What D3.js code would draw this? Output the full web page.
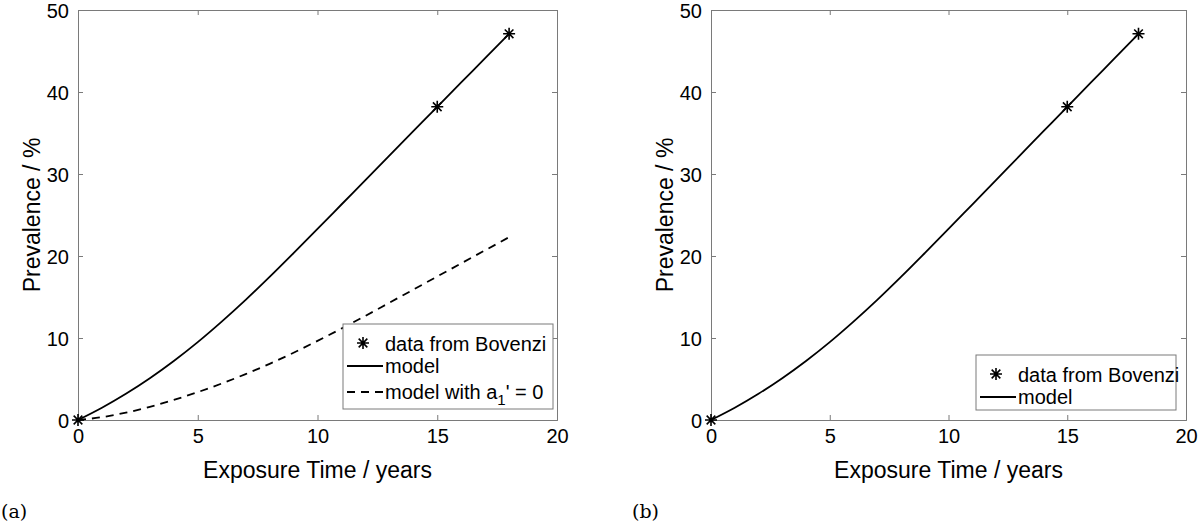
<!DOCTYPE html>
<html>
<head>
<meta charset="utf-8">
<script src="https://cdn.jsdelivr.net/npm/d3@7"></script>
<style>
  body { margin: 0; background: #fff; }
  text { font-family: "Liberation Sans", Arial, sans-serif; fill: #000; }
</style>
</head>
<body>
<script>
/**
 * Prevalence vs exposure time, two panels (a) and (b)
 */

// axis ticks
var xTicks = [0, 5, 10, 15, 20];
var yTicks = [0, 10, 20, 30, 40, 50];

// measured points (data from Bovenzi)
var dataTime = [0, 15, 18];
var dataPrev = [0, 38.2, 47.1];

// model curves
var modelTime = [0, 1, 2, 3, 4, 5, 6, 7, 8, 9, 10, 11, 12, 13, 14, 15, 16, 17, 18];
var modelPrev = [0, 1.5, 3.2, 5.1, 7.2, 9.5, 12.0, 14.65, 17.45, 20.35, 23.3, 26.28, 29.26, 32.24, 35.22, 38.2, 41.17, 44.13, 47.1];
var modelA1ZeroPrev = [0, 0.35, 0.9, 1.6, 2.45, 3.4, 4.45, 5.6, 6.85, 8.2, 9.65, 11.15, 12.7, 14.3, 15.9, 17.5, 19.1, 20.7, 22.3];

// svg container
var width = 1200, height = 521;
var svg = d3.select('body')
	.append('svg')
	.attr('width', width)
	.attr('height', height);

var axisColor = '#7a7a7a';

// draw one panel
function drawPanel(p) {
	var x = d3.scaleLinear().domain([0, 20]).range([p.left, p.right]);
	var y = d3.scaleLinear().domain([0, 50]).range([420, 10]);
	var g = svg.append('g');

	// inner ticks on all four sides
	g.append('g').attr('transform', 'translate(0,420)')
		.call(d3.axisBottom(x).tickValues(xTicks).tickSize(-5).tickPadding(9))
		.call(styleAxis);
	g.append('g').attr('transform', 'translate(0,10)')
		.call(d3.axisTop(x).tickValues(xTicks).tickSize(-5).tickFormat(''))
		.call(styleAxis);
	g.append('g').attr('transform', 'translate(' + p.left + ',0)')
		.call(d3.axisLeft(y).tickValues(yTicks).tickSize(-5).tickPadding(9))
		.call(styleAxis)
		.selectAll('.tick text').attr('dy', '0.36em');
	g.append('g').attr('transform', 'translate(' + p.right + ',0)')
		.call(d3.axisRight(y).tickValues(yTicks).tickSize(-5).tickFormat(''))
		.call(styleAxis);

	// axis labels
	g.append('text')
		.attr('x', (p.left + p.right) / 2)
		.attr('y', 478)
		.attr('text-anchor', 'middle')
		.style('font-size', '23px')
		.text('Exposure Time / years');
	g.append('text')
		.attr('transform', 'translate(' + (p.left - 38) + ',215) rotate(-90)')
		.attr('text-anchor', 'middle')
		.style('font-size', '23px')
		.text('Prevalence / %');

	var line = d3.line()
		.x(function(d, i) { return x(modelTime[i]); })
		.y(function(d) { return y(d); })
		.curve(d3.curveMonotoneX);

	if (p.dashed) {
		g.append('path')
			.attr('d', line(modelA1ZeroPrev))
			.attr('fill', 'none')
			.attr('stroke', '#000')
			.attr('stroke-width', 1.8)
			.attr('stroke-dasharray', '8,6');
	}
	g.append('path')
		.attr('d', line(modelPrev))
		.attr('fill', 'none')
		.attr('stroke', '#000')
		.attr('stroke-width', 1.8);

	dataTime.forEach(function(t, i) {
		drawStar(g, x(t), y(dataPrev[i]));
	});

	// legend
	var lg = g.append('g');
	lg.append('rect')
		.attr('x', p.legend.x).attr('y', p.legend.y)
		.attr('width', p.legend.w).attr('height', p.legend.h)
		.attr('fill', '#fff').attr('stroke', axisColor);
	var lx = p.legend.x, ly = p.legend.y;
	drawStar(lg, lx + 20, ly + 19);
	lg.append('text').attr('x', lx + 42).attr('y', ly + 27)
		.style('font-size', '20px').text('data from Bovenzi');
	lg.append('line')
		.attr('x1', lx + 4).attr('x2', lx + 40)
		.attr('y1', ly + 42).attr('y2', ly + 42)
		.attr('stroke', '#000').attr('stroke-width', 1.8);
	lg.append('text').attr('x', lx + 42).attr('y', ly + 49)
		.style('font-size', '20px').text('model');
	if (p.dashed) {
		lg.append('line')
			.attr('x1', lx + 4).attr('x2', lx + 40)
			.attr('y1', ly + 68).attr('y2', ly + 68)
			.attr('stroke', '#000').attr('stroke-width', 1.8)
			.attr('stroke-dasharray', '8,6');
		var t = lg.append('text').attr('x', lx + 42).attr('y', ly + 75)
			.style('font-size', '20px');
		t.append('tspan').text('model with a');
		t.append('tspan').attr('dy', 6).style('font-size', '15px').text('1');
		t.append('tspan').attr('dy', -6).text('\' = 0');
	}

	// panel tag in LaTeX-ish serif
	svg.append('text')
		.attr('x', p.tagX).attr('y', 518)
		.style('font-family', '"DejaVu Serif", "Liberation Serif", serif')
		.style('font-size', '19px')
		.text(p.tag);
}

function styleAxis(sel) {
	sel.select('.domain').attr('stroke', axisColor);
	sel.selectAll('.tick line').attr('stroke', axisColor);
	sel.selectAll('.tick text')
		.style('font-size', '20px')
		.style('font-family', '"Liberation Sans", Arial, sans-serif')
		.attr('fill', '#000');
}

// MATLAB style '*' marker
function drawStar(g, cx, cy) {
	var r = 6, d = r * 0.72;
	var path = 'M' + (cx - r) + ',' + cy + 'L' + (cx + r) + ',' + cy +
		'M' + cx + ',' + (cy - r) + 'L' + cx + ',' + (cy + r) +
		'M' + (cx - d) + ',' + (cy - d) + 'L' + (cx + d) + ',' + (cy + d) +
		'M' + (cx - d) + ',' + (cy + d) + 'L' + (cx + d) + ',' + (cy - d);
	g.append('path').attr('d', path)
		.attr('stroke', '#000').attr('stroke-width', 1.6).attr('fill', 'none');
}

drawPanel({ left: 78, right: 557, dashed: true, tag: '(a)', tagX: 1,
	legend: { x: 343, y: 324, w: 210, h: 85 } });
drawPanel({ left: 711, right: 1186, dashed: false, tag: '(b)', tagX: 632,
	legend: { x: 976, y: 355, w: 200, h: 55 } });
</script>
</body>
</html>
